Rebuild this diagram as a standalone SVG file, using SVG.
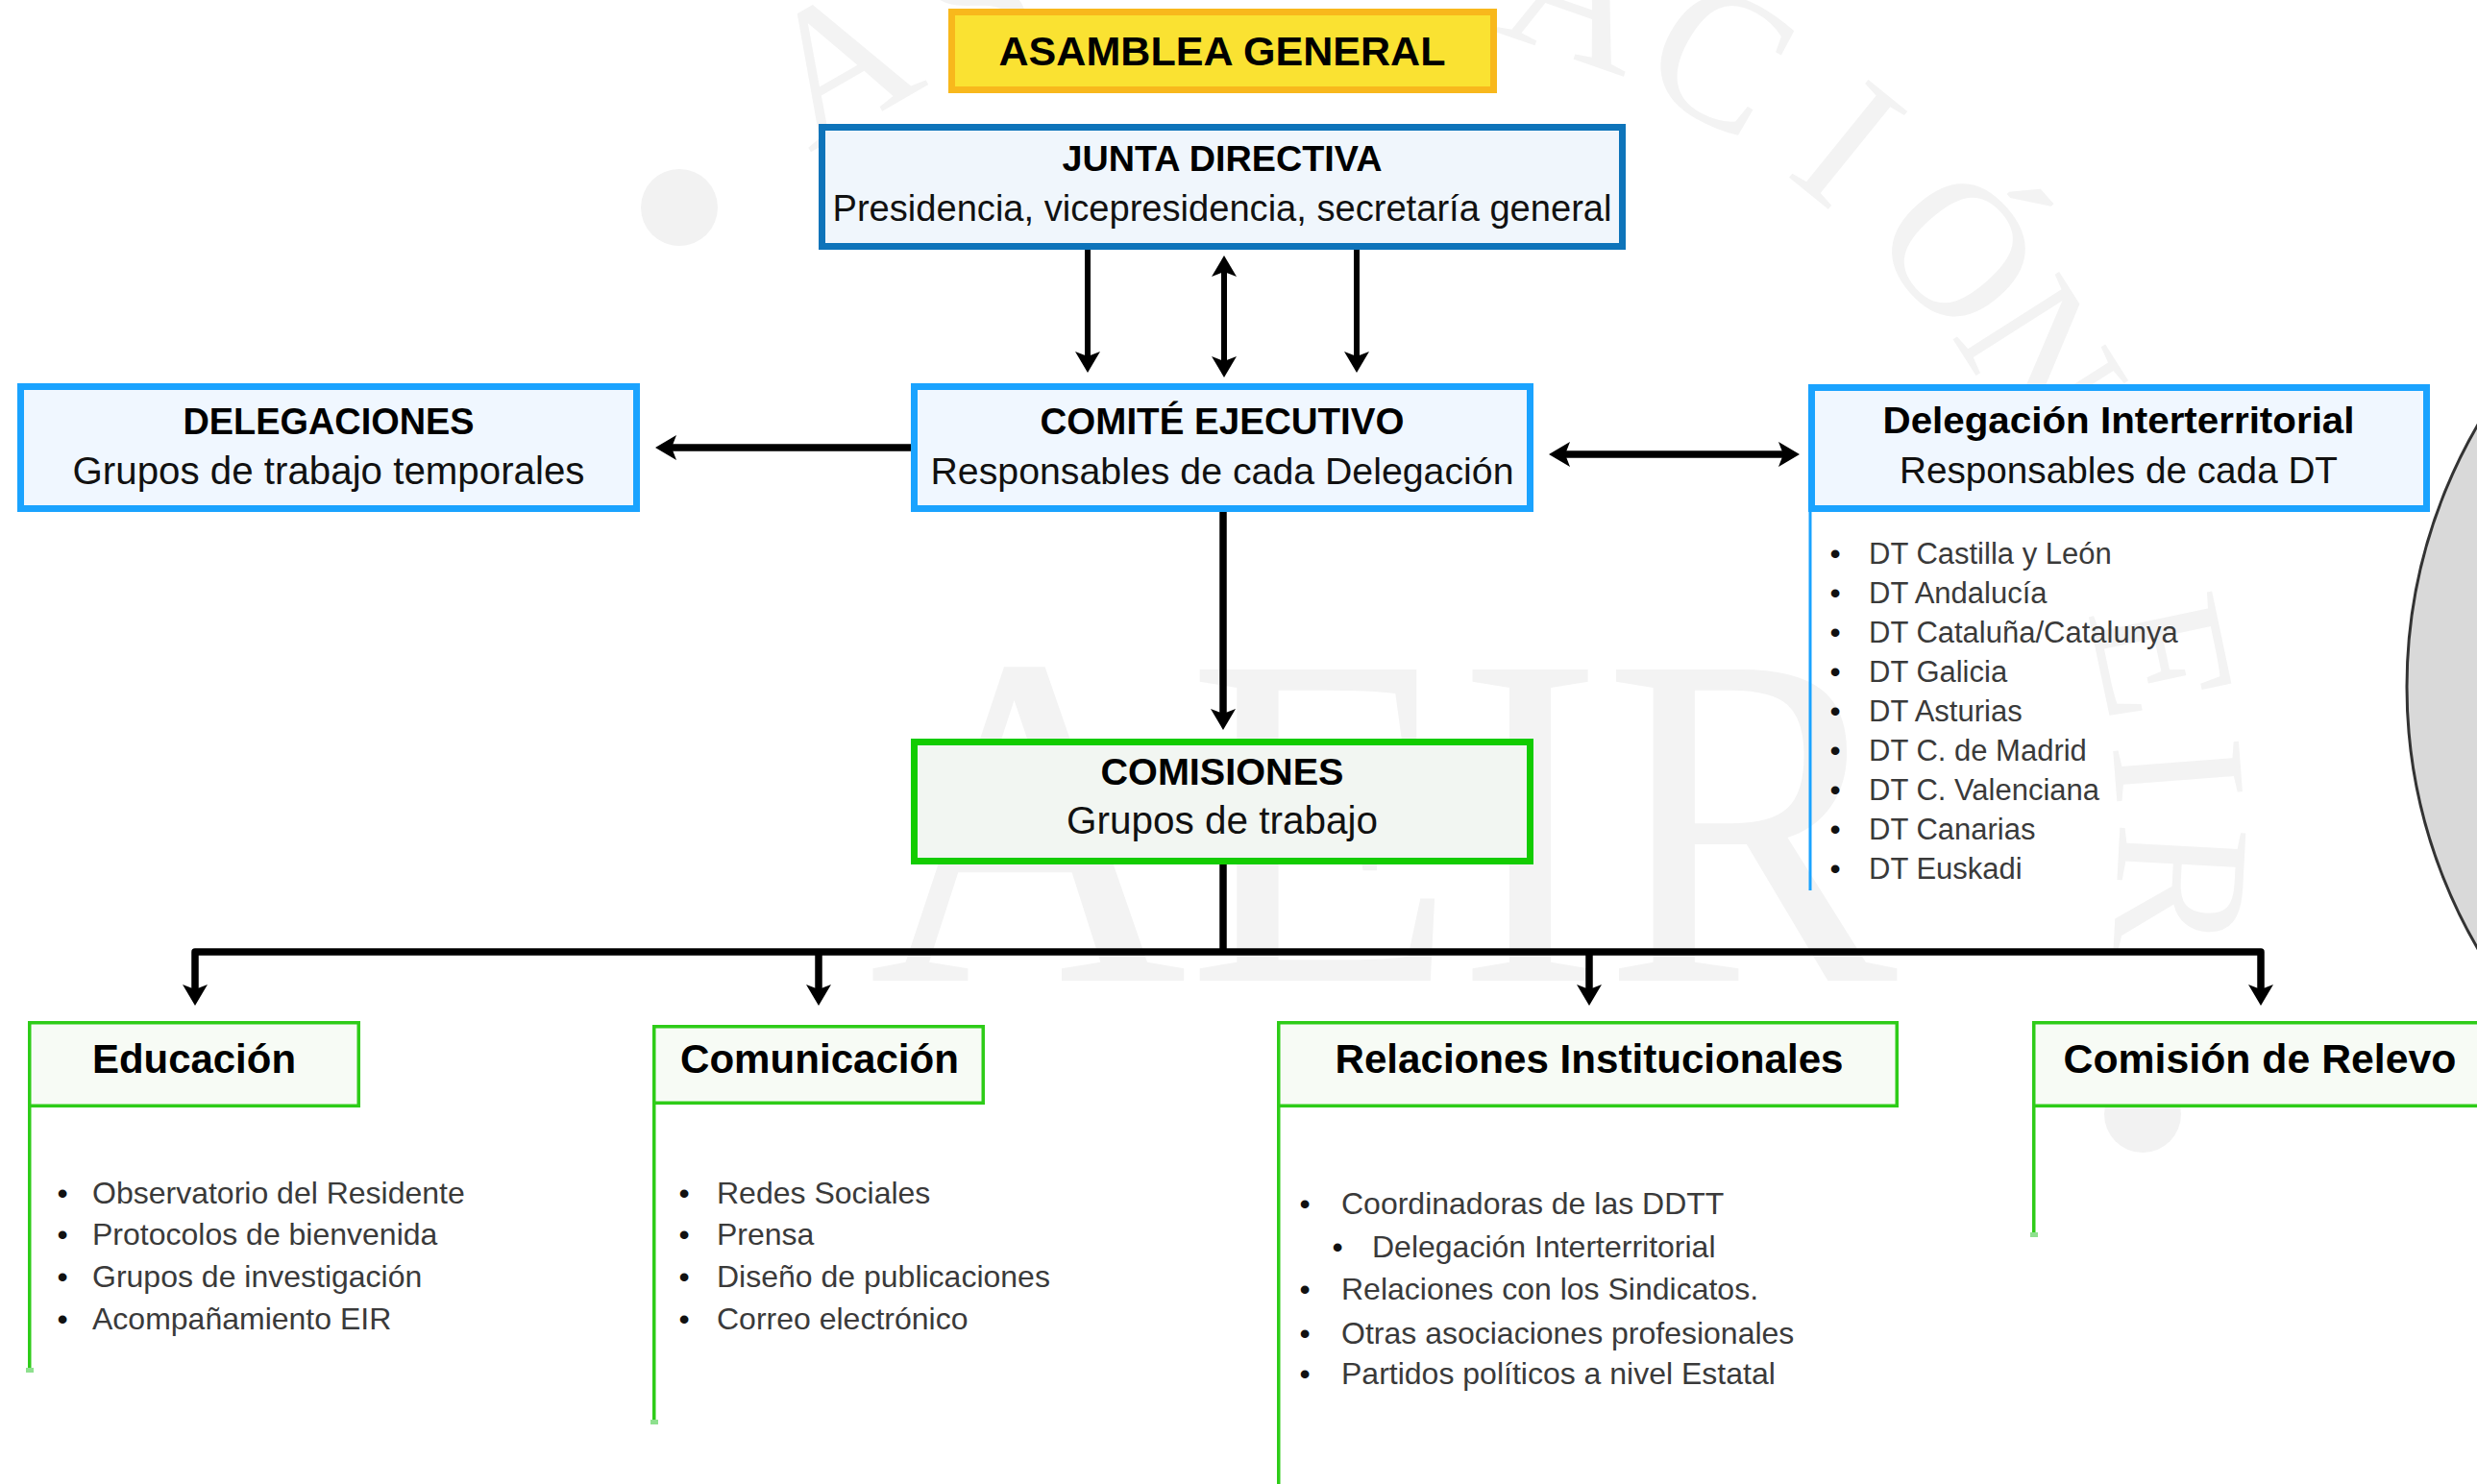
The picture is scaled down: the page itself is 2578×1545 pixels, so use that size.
<svg xmlns="http://www.w3.org/2000/svg" width="2578" height="1545" viewBox="0 0 2578 1545">
<defs>
<style>
.t{font-family:"Liberation Sans",Arial,sans-serif;text-anchor:middle;fill:#000}
.b{font-weight:bold}
.s{fill:#111}
.it{font-family:"Liberation Sans",Arial,sans-serif;font-size:32px;fill:#3a3a3a}
.dt{font-size:31px}
.bul{font-family:"Liberation Sans",Arial,sans-serif;font-size:32px;fill:#111;text-anchor:middle}
.wm{font-family:"Liberation Serif","Times New Roman",serif;fill:#f3f3f3;text-anchor:middle;font-size:200px}
.ln{fill:none;stroke:#000;stroke-width:7.5;stroke-linejoin:round}
.ln6{fill:none;stroke:#000;stroke-width:6}
.blue{fill:#f0f7ff;stroke:#1aa3ff;stroke-width:7}
.gbox{fill:#f7fbf5;stroke:#2ecc18;stroke-width:3.5}
.gline{stroke:#2ecc18;stroke-width:3.5}
.gend{fill:#8ee08e}
</style>
<marker id="arr" viewBox="0 0 22 26" refX="5" refY="13" markerWidth="22" markerHeight="26" markerUnits="userSpaceOnUse" orient="auto-start-reverse">
<path d="M0,0 L22,13 L0,26 L5,13 z" fill="#000"/>
</marker>
</defs>
<rect width="2578" height="1545" fill="#fff"/>

<g id="watermark">
<text x="904" y="1021" font-family="Liberation Serif, Times New Roman, serif" font-size="495" fill="#f3f3f3" textLength="1071" lengthAdjust="spacingAndGlyphs">AEIR</text>
<circle cx="707" cy="216" r="40" fill="#f2f2f2"/>
<circle cx="2230" cy="1160" r="40" fill="#f2f2f2"/>
<text class="wm" transform="translate(872,66) rotate(-29.9)" dy="66">A</text>
<text class="wm" transform="translate(1016,-1) rotate(-20.1)" dy="66">S</text>
<text class="wm" transform="translate(1645,-6) rotate(19.3)" dy="66">A</text>
<text class="wm" transform="translate(1791,60) rotate(29.1)" dy="66">C</text>
<text class="wm" transform="translate(1924,150) rotate(39)" dy="66">I</text>
<text class="wm" transform="translate(2039,260) rotate(48.8)" dy="66">Ó</text>
<text class="wm" transform="translate(2124,374) rotate(57.5)" dy="66">N</text>
<text class="wm" transform="translate(2250,683) rotate(78.1)" dy="66">E</text>
<text class="wm" transform="translate(2267,803) rotate(85.6)" dy="66">I</text>
<text class="wm" transform="translate(2269,925) rotate(93.1)" dy="66">R</text>
</g>

<g id="side-circle">
<circle cx="3045" cy="715" r="540" fill="#d9d9d9" stroke="#333" stroke-width="3"/>
</g>

<g id="connectors">
<line class="ln6" x1="1132" y1="260" x2="1132" y2="371" marker-end="url(#arr)"/>
<line class="ln6" x1="1274" y1="283" x2="1274" y2="376" marker-start="url(#arr)" marker-end="url(#arr)"/>
<line class="ln6" x1="1412" y1="260" x2="1412" y2="371" marker-end="url(#arr)"/>
<line class="ln" x1="948" y1="466" x2="699" y2="466" marker-end="url(#arr)"/>
<line class="ln" x1="1629" y1="473" x2="1856" y2="473" marker-start="url(#arr)" marker-end="url(#arr)"/>
<line class="ln" x1="1273" y1="533" x2="1273" y2="743" marker-end="url(#arr)"/>
<line class="ln" x1="1273" y1="900" x2="1273" y2="991"/>
<path class="ln" d="M203,1030 V991 H2353 V1030" marker-start="url(#arr)" marker-end="url(#arr)"/>
<line class="ln" x1="852" y1="991" x2="852" y2="1030" marker-end="url(#arr)"/>
<line class="ln" x1="1654" y1="991" x2="1654" y2="1030" marker-end="url(#arr)"/>
<line x1="1884" y1="533" x2="1884" y2="927" stroke="#1aa3ff" stroke-width="3"/>
<line class="gline" x1="30.75" y1="1153" x2="30.75" y2="1427"/>
<rect class="gend" x="27" y="1424" width="8" height="5"/>
<line class="gline" x1="680.75" y1="1150" x2="680.75" y2="1481"/>
<rect class="gend" x="677" y="1478" width="8" height="5"/>
<line class="gline" x1="1330.75" y1="1153" x2="1330.75" y2="1545"/>
<line class="gline" x1="2116.75" y1="1153" x2="2116.75" y2="1286"/>
<rect class="gend" x="2113" y="1283" width="8" height="5"/>
</g>

<g id="asamblea-general">
<rect x="990.5" y="12.5" width="564" height="81" fill="#fae232" stroke="#f8b81c" stroke-width="7"/>
<text class="t b" x="1272" y="68" font-size="42" textLength="465" lengthAdjust="spacingAndGlyphs">ASAMBLEA GENERAL</text>
</g>

<g id="junta-directiva">
<rect x="855.5" y="132.5" width="833" height="124" fill="#f0f6fc" stroke="#0e74ba" stroke-width="7"/>
<text class="t b" x="1272" y="178" font-size="37" textLength="333" lengthAdjust="spacingAndGlyphs">JUNTA DIRECTIVA</text>
<text class="t s" x="1272" y="230" font-size="38" textLength="811" lengthAdjust="spacingAndGlyphs">Presidencia, vicepresidencia, secretaría general</text>
</g>

<g id="delegaciones">
<rect class="blue" x="21.5" y="402.5" width="641" height="127"/>
<text class="t b" x="342" y="452" font-size="38" textLength="303" lengthAdjust="spacingAndGlyphs">DELEGACIONES</text>
<text class="t s" x="342" y="504" font-size="40" textLength="533" lengthAdjust="spacingAndGlyphs">Grupos de trabajo temporales</text>
</g>

<g id="comite-ejecutivo">
<rect class="blue" x="951.5" y="402.5" width="641" height="127"/>
<text class="t b" x="1272" y="452" font-size="38" textLength="379" lengthAdjust="spacingAndGlyphs">COMITÉ EJECUTIVO</text>
<text class="t s" x="1272" y="504" font-size="39" textLength="607" lengthAdjust="spacingAndGlyphs">Responsables de cada Delegación</text>
</g>

<g id="delegacion-interterritorial">
<rect class="blue" x="1885.5" y="403.5" width="640" height="126"/>
<text class="t b" x="2205" y="451" font-size="39" textLength="491" lengthAdjust="spacingAndGlyphs">Delegación Interterritorial</text>
<text class="t s" x="2205" y="503" font-size="39" textLength="456" lengthAdjust="spacingAndGlyphs">Responsables de cada DT</text>
<g>
<text class="bul" x="1910" y="587">•</text><text class="it dt" x="1945" y="587">DT Castilla y León</text>
<text class="bul" x="1910" y="628">•</text><text class="it dt" x="1945" y="628">DT Andalucía</text>
<text class="bul" x="1910" y="669">•</text><text class="it dt" x="1945" y="669">DT Cataluña/Catalunya</text>
<text class="bul" x="1910" y="710">•</text><text class="it dt" x="1945" y="710">DT Galicia</text>
<text class="bul" x="1910" y="751">•</text><text class="it dt" x="1945" y="751">DT Asturias</text>
<text class="bul" x="1910" y="792">•</text><text class="it dt" x="1945" y="792">DT C. de Madrid</text>
<text class="bul" x="1910" y="833">•</text><text class="it dt" x="1945" y="833">DT C. Valenciana</text>
<text class="bul" x="1910" y="874">•</text><text class="it dt" x="1945" y="874">DT Canarias</text>
<text class="bul" x="1910" y="915">•</text><text class="it dt" x="1945" y="915">DT Euskadi</text>
</g>
</g>

<g id="comisiones">
<rect x="951.5" y="772.5" width="641" height="124" fill="#f2f6f2" stroke="#13cc00" stroke-width="7"/>
<text class="t b" x="1272" y="817" font-size="39" textLength="253" lengthAdjust="spacingAndGlyphs">COMISIONES</text>
<text class="t s" x="1272" y="868" font-size="40" textLength="324" lengthAdjust="spacingAndGlyphs">Grupos de trabajo</text>
</g>

<g id="educacion">
<rect class="gbox" x="30.75" y="1064.75" width="342.5" height="86.5"/>
<text class="t b" x="202" y="1117" font-size="42" textLength="212" lengthAdjust="spacingAndGlyphs">Educación</text>
<text class="bul" x="65" y="1253">•</text><text class="it" x="96" y="1253">Observatorio del Residente</text>
<text class="bul" x="65" y="1296">•</text><text class="it" x="96" y="1296">Protocolos de bienvenida</text>
<text class="bul" x="65" y="1340">•</text><text class="it" x="96" y="1340">Grupos de investigación</text>
<text class="bul" x="65" y="1384">•</text><text class="it" x="96" y="1384">Acompañamiento EIR</text>
</g>

<g id="comunicacion">
<rect class="gbox" x="680.75" y="1068.75" width="342.5" height="79.5"/>
<text class="t b" x="853" y="1117" font-size="42" textLength="290" lengthAdjust="spacingAndGlyphs">Comunicación</text>
<text class="bul" x="712" y="1253">•</text><text class="it" x="746" y="1253">Redes Sociales</text>
<text class="bul" x="712" y="1296">•</text><text class="it" x="746" y="1296">Prensa</text>
<text class="bul" x="712" y="1340">•</text><text class="it" x="746" y="1340">Diseño de publicaciones</text>
<text class="bul" x="712" y="1384">•</text><text class="it" x="746" y="1384">Correo electrónico</text>
</g>

<g id="relaciones-institucionales">
<rect class="gbox" x="1330.75" y="1064.75" width="643.5" height="86.5"/>
<text class="t b" x="1654" y="1117" font-size="42" textLength="529" lengthAdjust="spacingAndGlyphs">Relaciones Institucionales</text>
<text class="bul" x="1358" y="1264">•</text><text class="it" x="1396" y="1264">Coordinadoras de las DDTT</text>
<text class="bul" x="1392" y="1309">•</text><text class="it" x="1428" y="1309">Delegación Interterritorial</text>
<text class="bul" x="1358" y="1353">•</text><text class="it" x="1396" y="1353">Relaciones con los Sindicatos.</text>
<text class="bul" x="1358" y="1399">•</text><text class="it" x="1396" y="1399">Otras asociaciones profesionales</text>
<text class="bul" x="1358" y="1441">•</text><text class="it" x="1396" y="1441">Partidos políticos a nivel Estatal</text>
</g>

<g id="comision-de-relevo">
<rect class="gbox" x="2116.75" y="1064.75" width="480" height="86.5"/>
<text class="t b" x="2352" y="1117" font-size="42" textLength="409" lengthAdjust="spacingAndGlyphs">Comisión de Relevo</text>
</g>
</svg>
